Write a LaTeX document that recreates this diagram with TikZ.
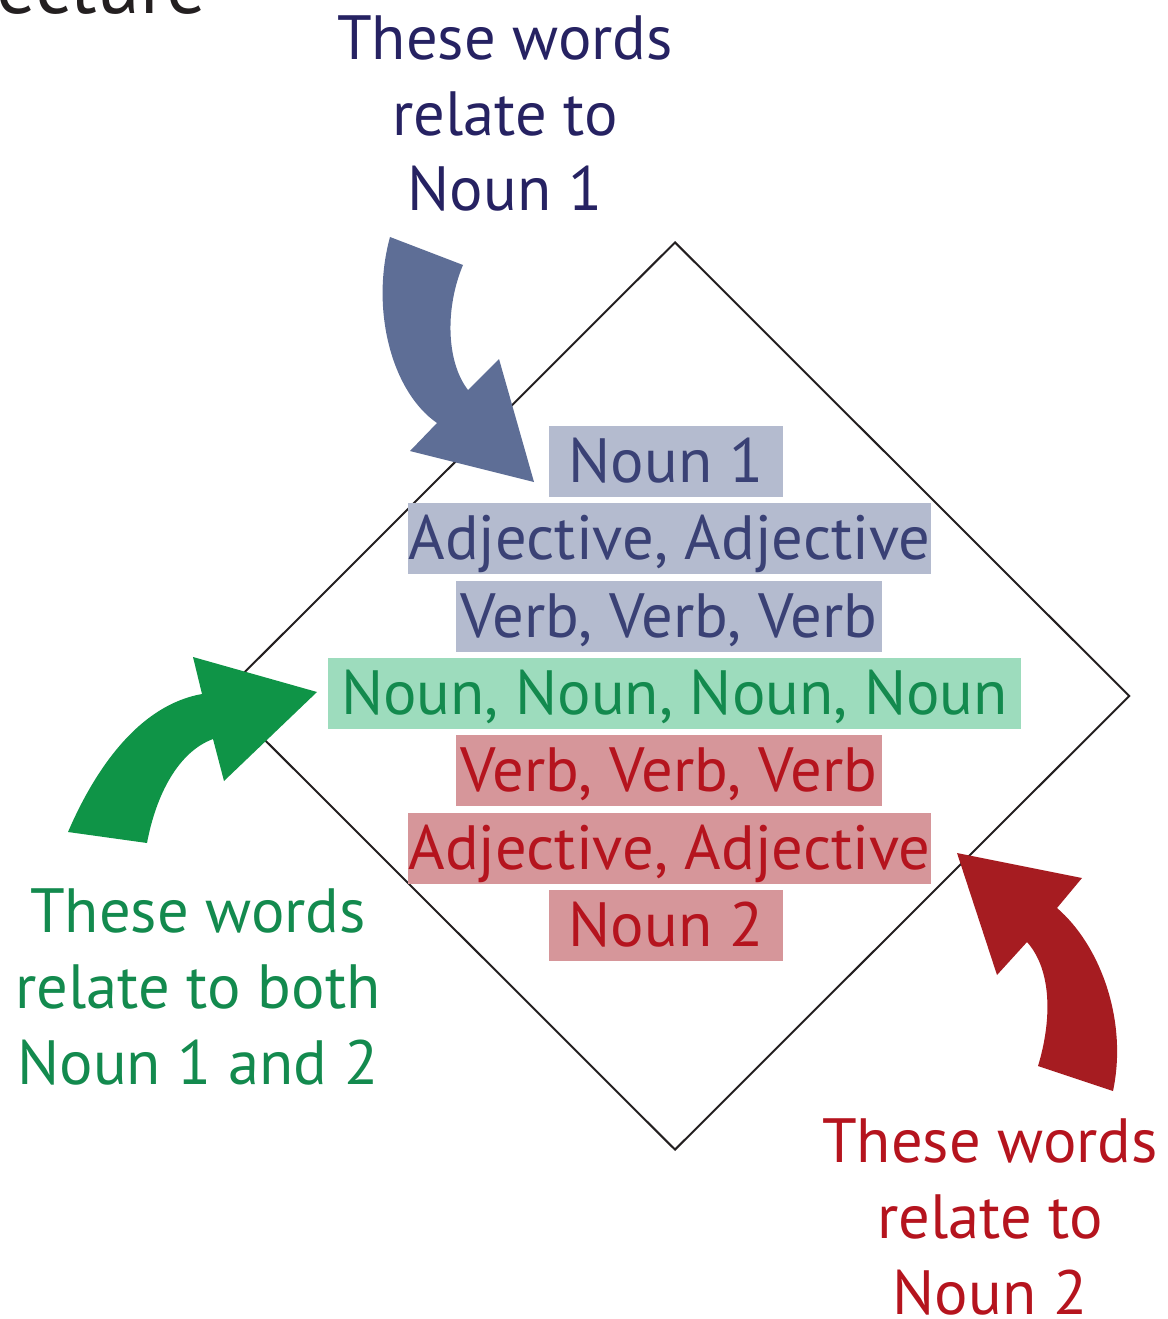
\documentclass[tikz,border=0pt]{standalone}
\usepackage{fontspec}
\setmainfont{PT Sans}
\usetikzlibrary{shapes.geometric}
\definecolor{navytext}{HTML}{262262}
\definecolor{bluetext}{HTML}{3A4175}
\definecolor{bluefill}{HTML}{B4BBCF}
\definecolor{bluearrow}{HTML}{5E6E96}
\definecolor{greentext}{HTML}{138A4E}
\definecolor{greenfill}{HTML}{9DDCBD}
\definecolor{greenarrow}{HTML}{0F9447}
\definecolor{redtext}{HTML}{B5141E}
\definecolor{redfill}{HTML}{D6969A}
\definecolor{redarrow}{HTML}{A61C21}
\definecolor{inkgray}{HTML}{231F20}
\newcommand{\wordfont}{\fontsize{44.5}{54}\selectfont}

\begin{document}
\begin{tikzpicture}[x=0.25mm, y=-0.25mm,
  wordb/.style={inner sep=0pt, text height=14mm, text depth=3.75mm,
                font=\wordfont, anchor=base},
  blueb/.style={wordb, fill=bluefill, text=bluetext},
  greenb/.style={wordb, fill=greenfill, text=greentext},
  redb/.style={wordb, fill=redfill, text=redtext},
  lbl/.style={align=center, font=\wordfont, anchor=base, inner sep=0pt},
]
\useasboundingbox (0,0) rectangle (1167,1319);

% Cut-off title in the corner
\node[anchor=base west, inner sep=0pt, font=\fontsize{56}{64}\selectfont, text=inkgray]
  (title) at (-4,14) {ecture};

% The diamond
\node[diamond, draw=inkgray, line width=1.4pt, aspect=1, inner sep=0pt,
      minimum width=227.3mm, minimum height=227mm] (dia) at (675,696) {};

% Word rows
\node[blueb, minimum width=58.5mm]   (noun1) at (666,482)   {Noun 1};
\node[blueb, minimum width=130.75mm] (adj1)  at (669.5,559) {Adjective, Adjective};
\node[blueb, minimum width=106.5mm]  (verb1) at (669,637)   {Verb, Verb, Verb};
\node[greenb, minimum width=173.25mm] (nouns) at (674.5,714) {Noun, Noun, Noun, Noun};
\node[redb, minimum width=106.5mm]   (verb2) at (669,791)   {Verb, Verb, Verb};
\node[redb, minimum width=130.75mm]  (adj2)  at (669.5,869) {Adjective, Adjective};
\node[redb, minimum width=58.5mm]    (noun2) at (666,946)   {Noun 2};

% Labels (anchored at the baseline of the last line)
\node[lbl, text=navytext] (lbltop) at (505,211)
  {These words\\relate to\\Noun 1};
\node[lbl, text=greentext] (lblleft) at (198,1084)
  {These words\\relate to both\\Noun 1 and 2};
\node[lbl, text=redtext] (lblright) at (990,1314)
  {These words\\relate to\\Noun 2};

% Block arrows
\fill[bluearrow] (390,237) -- (463,265)
  .. controls (446,305) and (445,360) .. (468,390)
  -- (499,359) -- (534,482) -- (410,451) -- (437,423)
  .. controls (392,392) and (370,310) .. (390,237) -- cycle;
\fill[greenarrow] (68,832) -- (147,843)
  .. controls (156,795) and (178,752) .. (213,739)
  -- (224,781) -- (317,692) -- (193,657) -- (202,694)
  .. controls (140,705) and (96,767) .. (68,832) -- cycle;
\fill[redarrow] (1113,1091) -- (1038,1066)
  .. controls (1052,1020) and (1052,970) .. (1027,942)
  -- (997,975) -- (957,853) -- (1082,878) -- (1057,908)
  .. controls (1100,945) and (1128,1020) .. (1113,1091) -- cycle;
\end{tikzpicture}
\end{document}
